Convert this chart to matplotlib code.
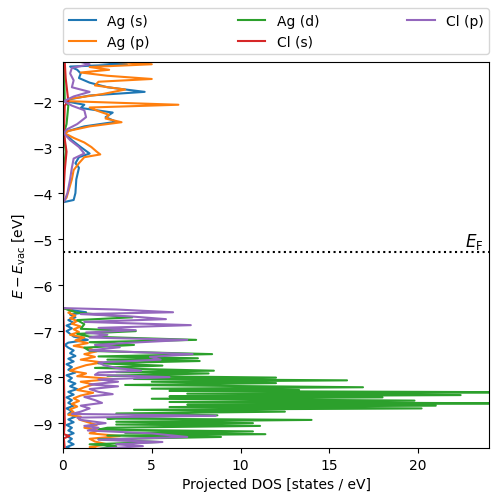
import numpy as np
import matplotlib
matplotlib.use("Agg")
import matplotlib.pyplot as plt

# Fermi level (eV, relative to vacuum)
E_F = -5.28

# (energy [eV], PDOS [states/eV]), upper band
ag_s_up = [(-1.15, 2.0), (-1.20, 3.6), (-1.25, 0.4), (-1.32, 0.8), (-1.40, 1.0),
           (-1.50, 0.9), (-1.60, 1.5), (-1.70, 2.5), (-1.80, 4.6), (-1.88, 1.5),
           (-1.96, 0.4), (-2.00, 0.1), (-2.08, 1.2), (-2.15, 1.0), (-2.25, 2.8),
           (-2.35, 2.4), (-2.45, 3.0), (-2.55, 1.2), (-2.65, 0.3), (-2.70, 0.1),
           (-2.85, 0.5), (-3.00, 1.0), (-3.14, 1.5), (-3.22, 0.9), (-3.35, 0.7),
           (-3.45, 0.9), (-3.70, 0.75), (-4.00, 0.7), (-4.15, 0.6), (-4.20, 0.0)]
ag_p_up = [(-1.15, 3.0), (-1.20, 5.0), (-1.26, 1.5), (-1.32, 2.6), (-1.38, 1.0),
           (-1.45, 2.5), (-1.52, 5.0), (-1.58, 2.0), (-1.66, 1.8), (-1.75, 3.5),
           (-1.85, 2.2), (-1.95, 0.4), (-2.00, 0.1), (-2.08, 6.5), (-2.14, 1.5),
           (-2.22, 2.0), (-2.30, 2.6), (-2.38, 2.4), (-2.46, 3.3), (-2.55, 1.5),
           (-2.65, 0.3), (-2.70, 0.1), (-2.80, 0.6), (-2.90, 1.2), (-3.00, 1.6),
           (-3.10, 1.9), (-3.16, 2.1), (-3.22, 1.2), (-3.35, 0.9), (-3.50, 0.6),
           (-3.70, 0.5), (-3.90, 0.35), (-4.10, 0.2), (-4.20, 0.0)]
ag_d_up = [(-1.15, 0.05), (-2.00, 0.1), (-2.10, 0.3), (-2.30, 0.25), (-2.50, 0.2),
           (-2.70, 0.05), (-3.10, 0.15), (-3.50, 0.05), (-4.20, 0.0)]
cl_s_up = [(-1.15, 0.1), (-1.50, 0.15), (-2.00, 0.3), (-2.10, 0.1), (-2.70, 0.05),
           (-3.10, 0.2), (-3.50, 0.1), (-4.20, 0.0)]
cl_p_up = [(-1.15, 1.0), (-1.20, 1.5), (-1.28, 0.5), (-1.40, 0.4), (-1.55, 0.6),
           (-1.70, 0.5), (-1.80, 1.5), (-1.90, 0.6), (-2.00, 0.05), (-2.10, 0.5),
           (-2.20, 1.2), (-2.35, 1.3), (-2.50, 0.8), (-2.62, 0.2), (-2.70, 0.05),
           (-2.85, 0.4), (-3.00, 0.9), (-3.14, 1.2), (-3.25, 0.6), (-3.45, 0.5),
           (-3.70, 0.4), (-4.00, 0.25), (-4.15, 0.1), (-4.20, 0.0)]

# lower band
ag_s_lo = [(-6.50, 0.0), (-6.55, 0.6), (-6.59, 1.3), (-6.64, 0.4), (-6.70, 0.7),
           (-6.76, 0.3), (-6.82, 0.6), (-6.88, 0.2), (-6.94, 0.5), (-7.00, 0.2),
           (-7.06, 0.4), (-7.12, 0.6), (-7.19, 1.4), (-7.25, 0.3), (-7.30, 0.1),
           (-7.36, 0.3), (-7.42, 0.6), (-7.48, 0.4), (-7.54, 0.7), (-7.60, 0.3),
           (-7.66, 0.6), (-7.72, 0.2), (-7.78, 0.5), (-7.84, 0.3), (-7.90, 0.7),
           (-7.96, 0.2), (-8.02, 0.5), (-8.08, 0.3), (-8.14, 0.7), (-8.20, 0.4),
           (-8.26, 0.8), (-8.32, 0.3), (-8.38, 0.6), (-8.44, 0.2), (-8.50, 0.5),
           (-8.56, 0.3), (-8.62, 0.6), (-8.68, 0.2), (-8.74, 0.5), (-8.80, 0.3),
           (-8.86, 0.7), (-8.92, 0.3), (-8.98, 0.6), (-9.04, 0.2), (-9.10, 0.5),
           (-9.16, 0.3), (-9.22, 0.6), (-9.28, 0.2), (-9.34, 0.5), (-9.40, 0.3),
           (-9.46, 0.6), (-9.52, 0.2), (-9.56, 0.4)]
ag_p_lo = [(-6.50, 0.0), (-6.55, 0.5), (-6.60, 0.3), (-6.66, 0.7), (-6.72, 0.4),
           (-6.78, 0.8), (-6.84, 0.5), (-6.90, 1.0), (-6.96, 0.6), (-7.02, 0.9),
           (-7.08, 0.4), (-7.14, 1.2), (-7.20, 0.7), (-7.26, 1.4), (-7.32, 0.6),
           (-7.38, 1.5), (-7.44, 1.9), (-7.50, 1.2), (-7.56, 1.8), (-7.62, 1.0),
           (-7.68, 2.2), (-7.74, 1.3), (-7.80, 0.8), (-7.86, 0.4), (-7.92, 1.3),
           (-7.98, 0.8), (-8.04, 2.8), (-8.10, 1.0), (-8.16, 1.7), (-8.22, 1.2),
           (-8.28, 0.8), (-8.34, 1.7), (-8.40, 1.0), (-8.46, 0.6), (-8.52, 0.9),
           (-8.58, 0.5), (-8.64, 0.8), (-8.70, 0.4), (-8.76, 0.6), (-8.82, 0.3),
           (-8.86, 1.0), (-8.92, 0.9), (-8.98, 1.4), (-9.04, 1.9), (-9.10, 1.2),
           (-9.16, 2.0), (-9.22, 1.5), (-9.28, 3.2), (-9.34, 1.5), (-9.40, 1.8),
           (-9.46, 2.5), (-9.52, 1.5), (-9.56, 2.0)]
ag_d_lo = [(-6.50, 0.0), (-6.60, 0.8), (-6.70, 3.9), (-6.76, 0.8), (-6.85, 1.2),
           (-6.95, 1.0), (-7.00, 4.1), (-7.06, 0.8), (-7.12, 1.5), (-7.19, 7.5),
           (-7.24, 1.5), (-7.30, 4.0), (-7.36, 1.2), (-7.43, 1.5), (-7.50, 8.4),
           (-7.55, 2.0), (-7.59, 7.6), (-7.62, 2.5), (-7.65, 7.7), (-7.70, 2.0),
           (-7.75, 5.6), (-7.80, 1.8), (-7.86, 8.5), (-7.89, 3.0), (-7.92, 8.2),
           (-7.97, 2.5), (-8.01, 12.0), (-8.04, 4.0), (-8.07, 16.0), (-8.10, 5.0),
           (-8.13, 12.0), (-8.17, 3.5), (-8.22, 16.9), (-8.25, 5.0), (-8.28, 13.3),
           (-8.30, 6.0), (-8.33, 27.0), (-8.36, 7.0), (-8.39, 22.4), (-8.42, 6.0),
           (-8.44, 18.0), (-8.47, 5.0), (-8.51, 19.8), (-8.54, 6.0), (-8.57, 26.0),
           (-8.60, 7.0), (-8.62, 21.0), (-8.65, 6.0), (-8.68, 20.2), (-8.71, 4.0),
           (-8.75, 12.5), (-8.79, 3.0), (-8.83, 8.7), (-8.86, 4.0), (-8.90, 2.5),
           (-8.93, 14.0), (-8.97, 3.0), (-9.00, 10.7), (-9.03, 3.0), (-9.06, 11.1),
           (-9.10, 2.5), (-9.14, 2.0), (-9.18, 10.7), (-9.21, 3.5), (-9.24, 11.4),
           (-9.27, 2.5), (-9.30, 8.9), (-9.35, 2.0), (-9.41, 5.4), (-9.46, 1.5),
           (-9.50, 3.0), (-9.56, 2.0)]
cl_s_lo = [(-6.50, 0.0), (-7.00, 0.05), (-8.00, 0.05), (-9.00, 0.1), (-9.24, 0.05),
           (-9.28, 0.35), (-9.33, 0.05), (-9.56, 0.1)]
cl_p_lo = [(-6.50, 0.0), (-6.53, 3.0), (-6.59, 6.2), (-6.63, 1.0), (-6.68, 3.8),
           (-6.74, 5.8), (-6.80, 1.2), (-6.87, 7.2), (-6.93, 2.0), (-6.98, 4.1),
           (-7.03, 1.3), (-7.08, 2.5), (-7.14, 1.5), (-7.19, 7.0), (-7.25, 3.9),
           (-7.30, 1.8), (-7.35, 3.2), (-7.42, 1.5), (-7.50, 7.3), (-7.56, 4.9),
           (-7.62, 5.5), (-7.68, 2.0), (-7.74, 2.3), (-7.80, 3.0), (-7.86, 4.4),
           (-7.90, 2.0), (-7.95, 1.8), (-8.00, 6.0), (-8.05, 2.0), (-8.10, 3.1),
           (-8.16, 1.5), (-8.20, 3.1), (-8.26, 1.5), (-8.32, 2.0), (-8.37, 2.8),
           (-8.43, 1.2), (-8.50, 1.8), (-8.56, 2.2), (-8.62, 1.0), (-8.68, 1.5),
           (-8.75, 1.0), (-8.80, 0.5), (-8.84, 8.6), (-8.88, 0.8), (-8.93, 1.0),
           (-9.00, 2.4), (-9.06, 1.2), (-9.10, 2.0), (-9.16, 1.4), (-9.22, 4.9),
           (-9.30, 7.0), (-9.36, 2.0), (-9.41, 5.6), (-9.46, 3.0), (-9.50, 4.5),
           (-9.56, 2.0)]

labels = ["Ag (s)", "Ag (p)", "Ag (d)", "Cl (s)", "Cl (p)"]
series = [(ag_s_up, ag_s_lo), (ag_p_up, ag_p_lo), (ag_d_up, ag_d_lo),
          (cl_s_up, cl_s_lo), (cl_p_up, cl_p_lo)]

fig = plt.figure(figsize=(4.98, 5.02), dpi=100)
ax = fig.add_axes([0.1265, 0.1056, 0.8555, 0.769])

for lab, (up, lo) in zip(labels, series):
    pts = up + [(np.nan, np.nan)] + lo
    e = np.array([p[0] for p in pts])
    d = np.array([p[1] for p in pts])
    ax.plot(d, e, label=lab)

ax.axhline(E_F, color="k", ls=":", lw=1.5)
ax.text(23.7, E_F + 0.03, r"$E_\mathrm{F}$", ha="right", va="bottom", fontsize=12)

ax.set_xlim(0, 24)
ax.set_ylim(-9.54, -1.15)
ax.set_xlabel("Projected DOS [states / eV]")
ax.set_ylabel(r"$E - E_\mathrm{vac}$ [eV]")
ax.legend(bbox_to_anchor=(0, 1.02, 1, 0.2), loc="lower left", mode="expand",
          ncol=3, borderaxespad=0)

fig.savefig("out.png", dpi=100)
